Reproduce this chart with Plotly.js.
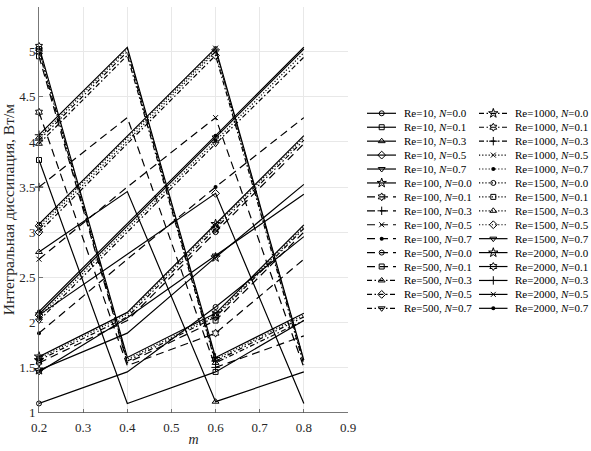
<!DOCTYPE html>
<html>
<head>
<meta charset="utf-8">
<script src="https://cdn.plot.ly/plotly-3.0.1.min.js"></script>
<style>html,body{margin:0;padding:0;background:#fff;}#chart{width:591px;height:451px;}</style>
</head>
<body>
<div id="chart"></div>
<script>
// ---- data ----
const mValues = [0.2, 0.4, 0.6, 0.8];
const reValues = [10, 100, 500, 1000, 1500, 2000];
const nLabels = ['0.0', '0.1', '0.3', '0.5', '0.7'];
const xTicks = [0.2, 0.3, 0.4, 0.5, 0.6, 0.7, 0.8, 0.9];
const yTicks = [1, 1.5, 2, 2.5, 3, 3.5, 4, 4.5, 5, 5.5];
const yTickLabels = ['1', '1.5', '2', '2.5', '3', '3.5', '4', '4.5', '5', '5.5'];

const dissRe10 = [
  [1.10, 1.45, 2.17, 2.95],
  [3.80, 1.10, 1.45, 2.02],
  [2.78, 3.45, 1.12, 1.45],
  [2.08, 2.75, 3.43, 1.10],
  [1.45, 2.05, 2.74, 3.42]
];
const dissRe100 = [
  [1.47, 1.88, 2.72, 3.53],
  [4.33, 1.52, 1.88, 2.70],
  [3.50, 4.27, 1.50, 1.85],
  [2.70, 3.50, 4.27, 1.50],
  [1.88, 2.70, 3.50, 4.27]
];
const dissRe500 = [
  [1.55, 2.02, 3.00, 3.98],
  [4.95, 1.55, 2.02, 3.00],
  [3.98, 4.96, 1.55, 2.02],
  [3.00, 3.98, 4.96, 1.53],
  [2.02, 3.00, 3.98, 4.94]
];
const dissRe1000 = [
  [1.58, 2.06, 3.04, 4.02],
  [5.00, 1.57, 2.06, 3.04],
  [4.02, 5.00, 1.57, 2.06],
  [3.04, 4.01, 5.00, 1.56],
  [2.06, 3.04, 4.02, 4.99]
];
const dissRe1500 = [
  [1.60, 2.09, 3.07, 4.05],
  [5.03, 1.59, 2.08, 3.06],
  [4.05, 5.03, 1.59, 2.08],
  [3.07, 4.04, 5.02, 1.57],
  [2.09, 3.07, 4.05, 5.03]
];
const dissRe2000 = [
  [1.62, 2.11, 3.09, 4.07],
  [5.06, 1.61, 2.10, 3.08],
  [4.08, 5.05, 1.61, 2.10],
  [3.09, 4.06, 5.04, 1.58],
  [2.12, 3.09, 4.07, 5.05]
];
const dissByRe = [dissRe10, dissRe100, dissRe500, dissRe1000, dissRe1500, dissRe2000];

// ---- styles ----
const dashCycle = ['solid', '8px,5px', '5px,2.5px,1.5px,2.5px', '1.2px,2px', 'solid'];
const markerCycle = [
  {symbol: 'circle-open', size: 5},
  {symbol: 'square-open', size: 5},
  {symbol: 'triangle-up-open', size: 6},
  {symbol: 'diamond-open', size: 6},
  {symbol: 'triangle-down-open', size: 6},
  {symbol: 'star-open', size: 7},
  {symbol: 'hexagram-open', size: 6},
  {symbol: 'cross-thin-open', size: 6},
  {symbol: 'x-thin-open', size: 5},
  {symbol: 'circle', size: 4}
];
const FONT = 'Liberation Serif';

const traces = [];
const annotations = [];
const legendRowTop = 113.3, legendRowStep = 13.93;
const legendCols = [
  {x0: 367, xm: 381.7, x1: 396, tx: 401.5},
  {x0: 479, xm: 493.3, x1: 507.5, tx: 513}
];

let idx = 0;
reValues.forEach((re, ri) => {
  dissByRe[ri].forEach((vals, ni) => {
    const dash = dashCycle[Math.floor(idx / 6)];
    const mk = markerCycle[idx % 10];
    const mkLineW = mk.symbol === 'circle' ? 0 : 1;
    traces.push({
      type: 'scatter', mode: 'lines+markers',
      x: mValues, y: vals,
      xaxis: 'x', yaxis: 'y',
      cliponaxis: false,
      showlegend: false,
      line: {color: '#000', width: 1.2, dash: dash},
      marker: {symbol: mk.symbol, size: mk.size, color: '#000',
               opacity: [1, 0, 1, 0],
               line: {color: '#000', width: mkLineW}},
      hoverinfo: 'skip'
    });
    // legend key (layout only)
    const col = legendCols[Math.floor(idx / 15)];
    const row = idx % 15;
    const ry = legendRowTop + legendRowStep * row;
    traces.push({
      type: 'scatter', mode: 'lines+markers',
      x: [col.x0, col.xm, col.x1], y: [ry, ry, ry],
      xaxis: 'x2', yaxis: 'y2',
      cliponaxis: false, showlegend: false, hoverinfo: 'skip',
      line: {color: '#000', width: 1.2, dash: dash},
      marker: {symbol: mk.symbol, size: mk.size, color: '#000',
               opacity: [0, 1, 0],
               line: {color: '#000', width: mkLineW}}
    });
    annotations.push({
      xref: 'x2', yref: 'y2', x: col.tx, y: ry,
      xanchor: 'left', yanchor: 'middle', showarrow: false,
      text: 'Re=' + re + ', <i>N</i>=' + nLabels[ni],
      font: {family: FONT, size: 11, color: '#000'}
    });
    idx++;
  });
});

const layout = {
  width: 591, height: 451,
  margin: {l: 0, r: 0, t: 0, b: 0},
  paper_bgcolor: '#fff', plot_bgcolor: '#fff',
  showlegend: false,
  font: {family: FONT, size: 13, color: '#262626'},
  xaxis: {
    domain: [39 / 591, 348 / 591],
    range: [0.2, 0.9],
    tickvals: xTicks, ticktext: xTicks.map(v => v.toFixed(1)),
    ticks: 'inside', ticklen: 4, tickcolor: '#555', tickwidth: 0.8,
    ticklabelstandoff: 3,
    showline: true, linecolor: '#555', linewidth: 0.8,
    showgrid: true, gridcolor: '#e8e8e8', gridwidth: 1,
    zeroline: false,
    tickfont: {family: FONT, size: 13, color: '#262626'},
    title: {text: '<i>m</i>', font: {family: FONT, size: 14, color: '#262626'}, standoff: 0},
    automargin: false
  },
  yaxis: {
    domain: [(451 - 412.5) / 451, (451 - 6.7) / 451],
    range: [1, 5.5],
    tickvals: yTicks, ticktext: yTickLabels,
    ticks: 'inside', ticklen: 4, tickcolor: '#555', tickwidth: 0.8,
    showline: true, linecolor: '#555', linewidth: 0.8,
    showgrid: true, gridcolor: '#e8e8e8', gridwidth: 1,
    zeroline: false,
    tickfont: {family: FONT, size: 13, color: '#262626'},
    title: {text: 'Интегральная диссипация, Вт/м', font: {family: FONT, size: 15.5, color: '#262626'}, standoff: 5},
    automargin: false
  },
  xaxis2: {domain: [360 / 591, 1], range: [360, 591], visible: false, fixedrange: true},
  yaxis2: {domain: [0, 1], range: [451, 0], visible: false, fixedrange: true},
  annotations: annotations
};

Plotly.newPlot('chart', traces, layout, {staticPlot: true, displayModeBar: false});
</script>
</body>
</html>
